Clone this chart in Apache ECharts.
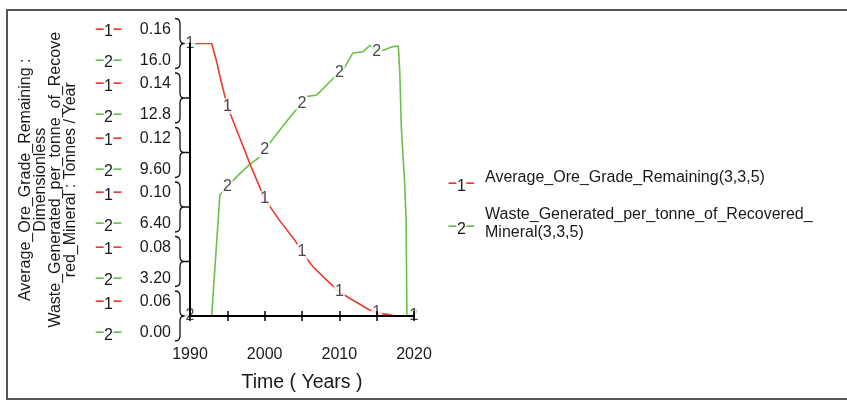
<!DOCTYPE html>
<html><head><meta charset="utf-8">
<script src="https://cdn.jsdelivr.net/npm/echarts@6/dist/echarts.min.js"></script>
<style>html,body{margin:0;padding:0;background:#fff}#c{width:847px;height:401px}</style>
</head><body><div id="c"></div>
<script>
// ---- data ----
const oreYears  = [1990, 1992.9, 1993.6, 1994, 1995, 1996.5, 1998, 2000, 2002, 2004, 2005, 2006.5, 2008, 2010, 2012, 2014, 2015, 2016.8, 2017.5, 2020];
const oreValues = [0.160, 0.160, 0.153, 0.148, 0.137, 0.1265, 0.116, 0.103, 0.095, 0.088, 0.0835, 0.078, 0.074, 0.0688, 0.0655, 0.0623, 0.0612, 0.0604, 0.0600, 0.0600];
const wasteYears  = [1990, 1992.9, 1994, 1995, 1996.3, 1998, 1999.4, 2000, 2000.7, 2002, 2003.8, 2005, 2005.6, 2007, 2008.3, 2010, 2010.5, 2011.8, 2013.2, 2014.1, 2015, 2015.9, 2017, 2017.9, 2018.1, 2018.3, 2018.75, 2018.95, 2019.05, 2020];
const wasteValues = [0, 0, 7.1, 7.6, 8.2, 8.9, 9.35, 9.75, 10.16, 10.9, 11.9, 12.45, 12.88, 12.98, 13.56, 14.3, 14.44, 15.44, 15.52, 15.9, 15.55, 15.6, 15.8, 15.85, 14.3, 11.1, 7.8, 5.6, 0, 0];
const markerYears = [1990, 1995, 2000, 2005, 2010, 2015, 2020];
const xTickValues = [1990, 1995, 2000, 2005, 2010, 2015, 2020];
const xTickLabels = ['1990', '', '2000', '', '2010', '', '2020'];
const oreTickValues = [0.06, 0.08, 0.10, 0.12, 0.14, 0.16];
const oreTickLabels = ['0.06', '0.08', '0.10', '0.12', '0.14', '0.16'];
const wasteTickLabels = ['0.00', '3.20', '6.40', '9.60', '12.8', '16.0'];
const seriesNames = ['Average_Ore_Grade_Remaining(3,3,5)', 'Waste_Generated_per_tonne_of_Recovered_\nMineral(3,3,5)'];
const seriesNumbers = ['1', '2'];
const yAxisTitle = 'Average_Ore_Grade_Remaining :\nDimensionless\nWaste_Generated_per_tonne_of_Recove\nred_Mineral : Tonnes / Year';
const xAxisTitle = 'Time ( Years )';

// ---- styles ----
const FONT = "'Liberation Sans', Arial, sans-serif";
const RED = '#ea3b2e';
const GREEN = '#6cc04c';
const TXT = '#1a1a1a';

const orePairs = oreYears.map((y, i) => [y, oreValues[i]]);
const wastePairs = wasteYears.map((y, i) => [y, wasteValues[i]]);
const oreMarks = markerYears.map(y => [y, oreValues[oreYears.indexOf(y)]]);
const wasteMarks = markerYears.map(y => [y, wasteValues[wasteYears.indexOf(y)]]);

function tickRich(color) {
  return {
    d: { color: color, fontSize: 16, fontWeight: 'bold', fontFamily: FONT },
    n: { color: TXT, fontSize: 16, fontFamily: FONT, padding: [5, 0, 0, 0] },
    s: { width: 18 },
    v: { color: TXT, fontSize: 16, fontFamily: FONT }
  };
}

const chart = echarts.init(document.getElementById('c'), null, { renderer: 'canvas' });
const xMin = xTickValues[0], xMax = xTickValues[xTickValues.length - 1];

const markerLabel = (txt) => ({
  show: true, position: 'inside', formatter: txt,
  color: TXT, fontSize: 16, fontFamily: FONT,
  backgroundColor: '#fff', padding: [0, 1]
});

chart.setOption({
  animation: false,
  backgroundColor: '#fff',
  grid: { left: 190, top: 43.5, right: 433, bottom: 85 },
  xAxis: [
    {
      type: 'value', min: xMin, max: xMax, interval: 5, z: 10,
      axisLine: { show: true, lineStyle: { color: '#000', width: 2 } },
      axisTick: { show: true, length: 5, lineStyle: { color: '#000', width: 1.5 } },
      splitLine: { show: false },
      axisLabel: {
        margin: 31, fontSize: 16, fontFamily: FONT, color: TXT,
        formatter: (v) => xTickLabels[xTickValues.indexOf(v)] || ''
      },
      name: xAxisTitle, nameLocation: 'middle', nameGap: 57,
      nameTextStyle: { fontSize: 19.5, fontFamily: FONT, color: TXT }
    },
    {
      type: 'value', min: xMin, max: xMax, interval: 5, position: 'bottom', z: 10,
      axisLine: { show: false },
      axisTick: { show: true, inside: true, length: 5, lineStyle: { color: '#000', width: 1.5 } },
      axisLabel: { show: false }, splitLine: { show: false }
    }
  ],
  yAxis: [
    {
      type: 'value', min: oreTickValues[0], max: oreTickValues[oreTickValues.length - 1], interval: 0.02, z: 10,
      axisLine: { show: true, lineStyle: { color: '#000', width: 2 } },
      axisTick: { show: false }, splitLine: { show: false },
      axisLabel: {
        margin: 19, padding: [0, 0, 28, 0],
        formatter: (v, i) => '{d|–}{n|' + seriesNumbers[0] + '}{d|–}{s|}{v|' + oreTickLabels[i] + '}',
        rich: tickRich(RED)
      },
      name: yAxisTitle, nameLocation: 'middle', nameRotate: 90, nameGap: 112,
      nameTextStyle: { fontSize: 16, lineHeight: 15, fontFamily: FONT, color: TXT, align: 'center' }
    },
    {
      type: 'value', min: 0, max: 16, interval: 3.2, position: 'left', offset: 0, z: 10,
      axisLine: { show: false }, axisTick: { show: false }, splitLine: { show: false },
      axisLabel: {
        margin: 19, padding: [34, 0, 0, 0],
        formatter: (v, i) => '{d|–}{n|' + seriesNumbers[1] + '}{d|–}{s|}{v|' + wasteTickLabels[i] + '}',
        rich: tickRich(GREEN)
      }
    }
  ],
  graphic: [
    { type: 'rect', shape: { x: 7, y: 10, width: 860, height: 389 }, style: { fill: 'none', stroke: '#555', lineWidth: 2 }, z: 0 },
    { type: 'text', x: 448, y: 184, style: { text: '{d|–}{n|' + seriesNumbers[0] + '}{d|–}', rich: { d: { fill: RED, fontSize: 16, fontWeight: 'bold', fontFamily: FONT }, n: { fill: TXT, fontSize: 16, fontFamily: FONT, padding: [5, 0, 0, 0] } }, verticalAlign: 'middle' } },
    { type: 'text', x: 485, y: 178, style: { text: seriesNames[0], fill: TXT, fontSize: 16, fontFamily: FONT, verticalAlign: 'middle' } },
    { type: 'text', x: 448, y: 227, style: { text: '{d|–}{n|' + seriesNumbers[1] + '}{d|–}', rich: { d: { fill: GREEN, fontSize: 16, fontWeight: 'bold', fontFamily: FONT }, n: { fill: TXT, fontSize: 16, fontFamily: FONT, padding: [5, 0, 0, 0] } }, verticalAlign: 'middle' } },
    { type: 'text', x: 485, y: 224, style: { text: seriesNames[1], fill: TXT, fontSize: 16, lineHeight: 18, fontFamily: FONT, verticalAlign: 'middle' } }
  ],
  series: [
    {
      type: 'custom', name: 'braces', xAxisIndex: 0, yAxisIndex: 0, z: 1,
      data: oreTickValues.map(v => [xMin, v]),
      renderItem: function (params, api) {
        const p = api.coord([api.value(0), api.value(1)]);
        const x = p[0], y = p[1], h = 25;
        const d = 'M' + (x - 15) + ' ' + (y - h) + ' Q' + (x - 10) + ' ' + (y - h) + ' ' + (x - 10) + ' ' + (y - h + 5) +
          ' L' + (x - 10) + ' ' + (y - 5) + ' Q' + (x - 10) + ' ' + y + ' ' + (x - 6) + ' ' + y +
          ' L' + x + ' ' + y +
          ' M' + (x - 6) + ' ' + y + ' Q' + (x - 10) + ' ' + y + ' ' + (x - 10) + ' ' + (y + 5) +
          ' L' + (x - 10) + ' ' + (y + h - 5) + ' Q' + (x - 10) + ' ' + (y + h) + ' ' + (x - 15) + ' ' + (y + h);
        return { type: 'path', shape: { pathData: d }, style: { fill: 'none', stroke: '#111', lineWidth: 1.3 } };
      }
    },
    {
      type: 'line', name: seriesNames[1], xAxisIndex: 0, yAxisIndex: 1, data: wastePairs,
      showSymbol: false, symbol: 'none', lineStyle: { color: GREEN, width: 1.6 }, z: 2
    },
    {
      type: 'line', name: seriesNames[0], xAxisIndex: 0, yAxisIndex: 0, data: orePairs,
      showSymbol: false, symbol: 'none', lineStyle: { color: RED, width: 1.6 }, z: 3
    },
    {
      type: 'scatter', xAxisIndex: 0, yAxisIndex: 1, data: wasteMarks, symbolSize: 1,
      itemStyle: { color: 'rgba(0,0,0,0)' }, label: markerLabel(seriesNumbers[1]), z: 4
    },
    {
      type: 'scatter', xAxisIndex: 0, yAxisIndex: 0, data: oreMarks, symbolSize: 1,
      itemStyle: { color: 'rgba(0,0,0,0)' }, label: markerLabel(seriesNumbers[0]), z: 5
    }
  ]
});
</script>
</body></html>
